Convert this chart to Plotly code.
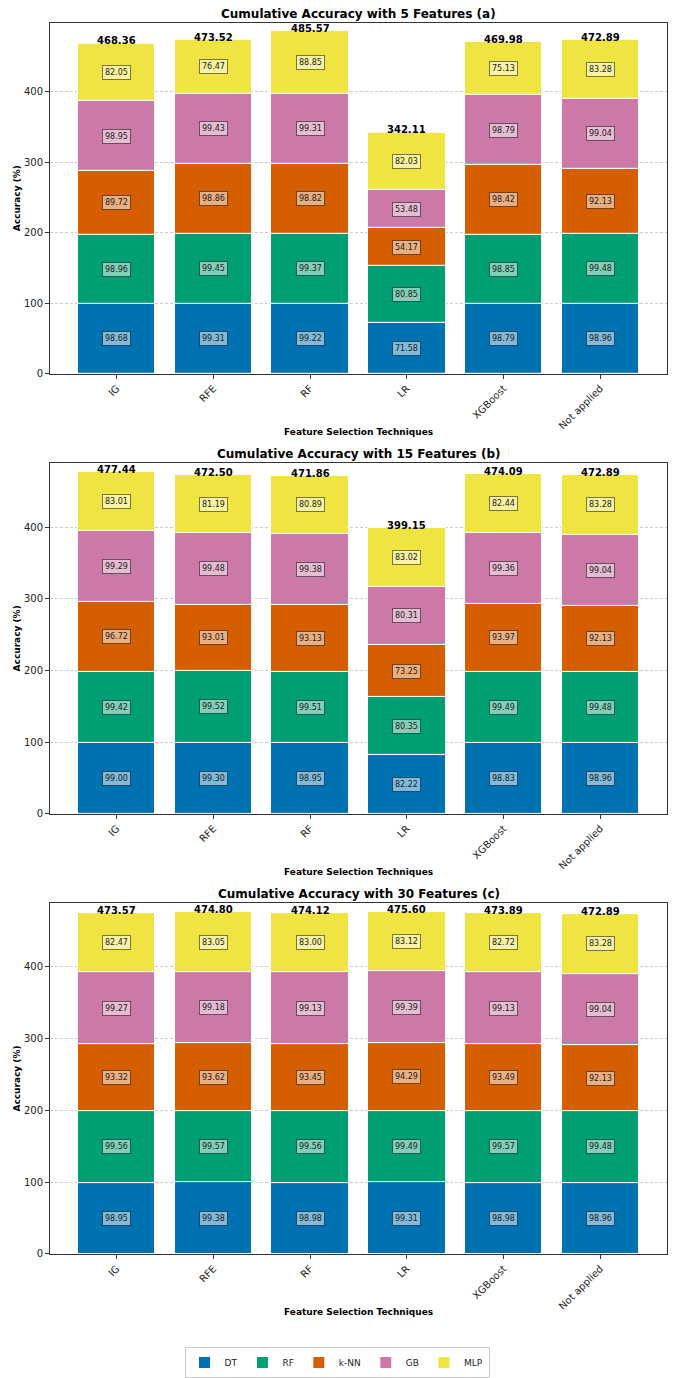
import plotly.graph_objects as go

# Feature selection techniques (x categories)
techniques = ["IG", "RFE", "RF", "LR", "XGBoost", "Not applied"]
models = ["DT", "RF", "k-NN", "GB", "MLP"]
colors = ["#0072B2", "#009E73", "#D55E00", "#CC79A7", "#F0E442"]

# Accuracy (%) per model for each technique, 5 features
dt_5 = [98.68, 99.31, 99.22, 71.58, 98.79, 98.96]
rf_5 = [98.96, 99.45, 99.37, 80.85, 98.85, 99.48]
knn_5 = [89.72, 98.86, 98.82, 54.17, 98.42, 92.13]
gb_5 = [98.95, 99.43, 99.31, 53.48, 98.79, 99.04]
mlp_5 = [82.05, 76.47, 88.85, 82.03, 75.13, 83.28]

# 15 features
dt_15 = [99.00, 99.30, 98.95, 82.22, 98.83, 98.96]
rf_15 = [99.42, 99.52, 99.51, 80.35, 99.49, 99.48]
knn_15 = [96.72, 93.01, 93.13, 73.25, 93.97, 92.13]
gb_15 = [99.29, 99.48, 99.38, 80.31, 99.36, 99.04]
mlp_15 = [83.01, 81.19, 80.89, 83.02, 82.44, 83.28]

# 30 features
dt_30 = [98.95, 99.38, 98.98, 99.31, 98.98, 98.96]
rf_30 = [99.56, 99.57, 99.56, 99.49, 99.57, 99.48]
knn_30 = [93.32, 93.62, 93.45, 94.29, 93.49, 92.13]
gb_30 = [99.27, 99.18, 99.13, 99.39, 99.13, 99.04]
mlp_30 = [82.47, 83.05, 83.00, 83.12, 82.72, 83.28]

panels = [
    ("Cumulative Accuracy with 5 Features (a)", [dt_5, rf_5, knn_5, gb_5, mlp_5]),
    ("Cumulative Accuracy with 15 Features (b)", [dt_15, rf_15, knn_15, gb_15, mlp_15]),
    ("Cumulative Accuracy with 30 Features (c)", [dt_30, rf_30, knn_30, gb_30, mlp_30]),
]

W, H = 674, 1378
FONT = "DejaVu Sans"
x_left, x_right = 50, 667
# (top, bottom) pixel rows of each axes frame
frames = [(23, 377), (467, 821), (911, 1265)]

fig = go.Figure()
annotations = []
layout_axes = {}

for p, (title, series) in enumerate(panels):
    top, bottom = frames[p]
    suffix = "" if p == 0 else str(p + 1)
    xa, ya = "x" + suffix, "y" + suffix
    xs = list(range(len(techniques)))
    base = [0.0] * len(techniques)
    for m, vals in enumerate(series):
        fig.add_trace(go.Bar(
            x=xs, y=vals, base=base[:], width=0.8,
            marker=dict(color=colors[m], line=dict(color="white", width=1)),
            name=models[m], legendgroup=models[m], showlegend=(p == 0),
            xaxis=xa, yaxis=ya, hoverinfo="skip",
        ))
        for i, v in enumerate(vals):
            annotations.append(dict(
                x=i, y=base[i] + v / 2, xref=xa, yref=ya,
                text=f"{v:.2f}", showarrow=False,
                font=dict(family=FONT, size=8, color="#222"),
                bgcolor="rgba(255,255,255,0.5)",
                bordercolor="rgba(0,0,0,0.5)", borderwidth=1, borderpad=2,
            ))
        base = [b + v for b, v in zip(base, vals)]
    totals = base
    for i, t in enumerate(totals):
        annotations.append(dict(
            x=i, y=t, xref=xa, yref=ya, yanchor="bottom", yshift=-5,
            text=f"<b>{t:.2f}</b>", showarrow=False,
            font=dict(family=FONT, size=10, color="black"),
        ))
    ymax = max(totals) + 12

    dom_y = [1 - bottom / H, 1 - top / H]
    layout_axes["xaxis" + suffix] = dict(
        domain=[x_left / W, x_right / W], anchor=ya,
        range=[-0.69, 5.69], tickmode="array", tickvals=xs, ticktext=techniques,
        tickangle=-45, ticks="outside", ticklen=4, tickcolor="#333",
        showline=True, linecolor="#333", linewidth=1, mirror=True,
        showgrid=False, zeroline=False,
        tickfont=dict(family=FONT, size=10, color="#222"),
    )
    layout_axes["yaxis" + suffix] = dict(
        domain=dom_y, anchor=xa, range=[0, ymax],
        tickvals=[0, 100, 200, 300, 400], ticks="outside", ticklen=4, tickcolor="#333",
        showline=True, linecolor="#333", linewidth=1, mirror=True,
        showgrid=True, gridcolor="rgba(0,0,0,0.2)", griddash="3px,2px", gridwidth=0.8,
        zeroline=False,
        tickfont=dict(family=FONT, size=10, color="#222"),
    )
    # panel title
    annotations.append(dict(
        x=(x_left + x_right) / 2 / W, y=1 - (top - 9) / H, xref="paper", yref="paper",
        text=f"<b>{title}</b>", showarrow=False, yanchor="middle",
        font=dict(family=FONT, size=12, color="black"),
    ))
    # axis titles
    annotations.append(dict(
        x=(x_left + x_right) / 2 / W, y=1 - (bottom + 59) / H, xref="paper", yref="paper",
        text="<b>Feature Selection Techniques</b>", showarrow=False, yanchor="middle",
        font=dict(family=FONT, size=9, color="black"),
    ))
    annotations.append(dict(
        x=17 / W, y=1 - (top + bottom) / 2 / H, xref="paper", yref="paper",
        text="<b>Accuracy (%)</b>", showarrow=False, textangle=-90,
        xanchor="center", yanchor="middle",
        font=dict(family=FONT, size=9, color="black"),
    ))

fig.update_layout(
    width=W, height=H, margin=dict(l=0, r=0, t=0, b=0),
    paper_bgcolor="white", plot_bgcolor="white",
    barmode="overlay", bargap=0,
    annotations=annotations,
    legend=dict(
        orientation="h", x=0.5, xanchor="center", y=1 - 1359 / H, yanchor="top",
        bordercolor="#ccc", borderwidth=1, bgcolor="white",
        font=dict(family=FONT, size=9, color="#222"), itemwidth=30,
    ),
    **layout_axes,
)

fig.write_html("out.html")
